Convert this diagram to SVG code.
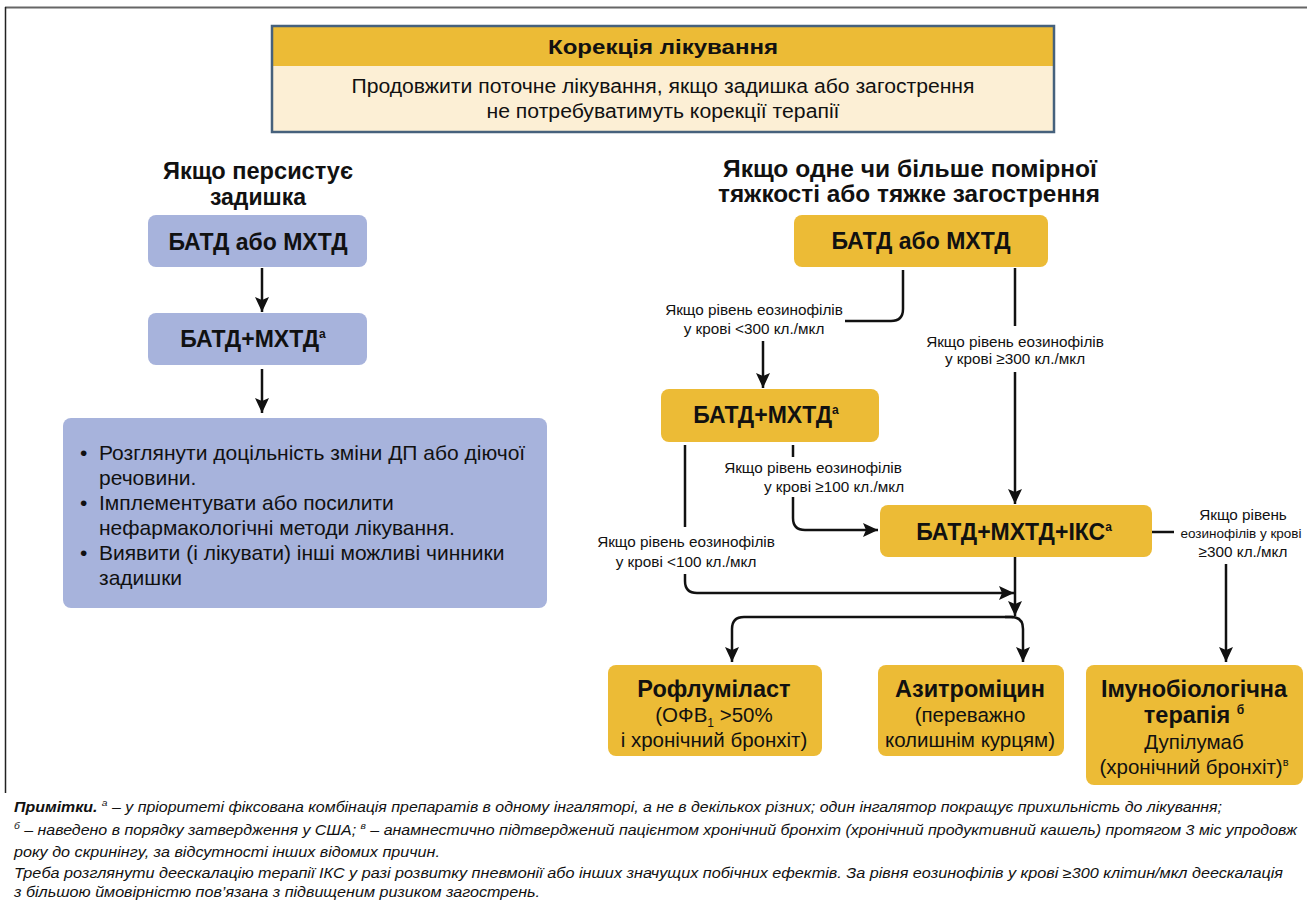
<svg xmlns="http://www.w3.org/2000/svg" width="1307" height="910" viewBox="0 0 1307 910">
<style>
text{font-family:"Liberation Sans","Noto Sans",sans-serif;fill:#111}
.b{font-weight:bold}
.bx{font-size:23px;font-weight:bold;text-anchor:middle}
.hd{font-size:23px;font-weight:bold;text-anchor:middle}
.lb{font-size:15.3px;text-anchor:middle}
.gold{fill:#ECBB36}
.lav{fill:#A7B3DC}
.fin{font-size:20.5px;text-anchor:middle}
.fb{font-size:23.5px;font-weight:bold}
.blt{font-size:21px}
.note{font-size:14px;font-style:italic}
.c{fill:none;stroke:#111;stroke-width:2.5}
</style>
<defs>
<marker id="ar" markerUnits="userSpaceOnUse" markerWidth="16" markerHeight="16" viewBox="0 0 16 14" refX="15" refY="7" orient="auto">
<path d="M0,0 L15,7 L0,14 L3,7 z" fill="#111"/>
</marker>
</defs>
<g id="frame">
<line x1="5" y1="7.5" x2="1307" y2="7.5" stroke="#666" stroke-width="2"/>
<line x1="5.5" y1="7" x2="5.5" y2="793" stroke="#222" stroke-width="1.5"/>
</g>
<g id="top-box">
<rect x="272" y="26" width="782" height="106" fill="#FCEFD5"/>
<rect x="272" y="26" width="782" height="40" class="gold"/>
<rect x="272" y="26" width="782" height="106" fill="none" stroke="#46617C" stroke-width="2.5"/>
<text x="663" y="54" class="b" font-size="20" text-anchor="middle" textLength="230" lengthAdjust="spacingAndGlyphs">Корекція лікування</text>
<text x="663" y="93" font-size="20" text-anchor="middle" textLength="623" lengthAdjust="spacingAndGlyphs">Продовжити поточне лікування, якщо задишка або загострення</text>
<text x="663" y="118" font-size="20" text-anchor="middle" textLength="353" lengthAdjust="spacingAndGlyphs">не потребуватимуть корекції терапії</text>
</g>
<g id="left-heading">
<text x="258" y="179" class="hd" textLength="190" lengthAdjust="spacingAndGlyphs">Якщо персистує</text>
<text x="258" y="205" class="hd">задишка</text>
</g>
<g id="right-heading">
<text x="910" y="177" class="hd" textLength="374" lengthAdjust="spacingAndGlyphs">Якщо одне чи більше помірної</text>
<text x="909" y="202" class="hd" textLength="382" lengthAdjust="spacingAndGlyphs">тяжкості або тяжке загострення</text>
</g>
<g id="l-batd-or">
<rect x="148" y="215" width="219" height="52" rx="8" class="lav"/>
<text x="258" y="250" class="bx">БАТД або МХТД</text>
</g>
<g id="l-batd-plus">
<rect x="148" y="313" width="219" height="52" rx="8" class="lav"/>
<text x="253" y="347" class="bx">БАТД+МХТД<tspan font-size="12" dy="-9">а</tspan></text>
</g>
<g id="l-actions">
<rect x="63" y="418" width="484" height="190" rx="8" class="lav"/>
<text x="80" y="460" class="blt">•</text>
<text x="99" y="460" class="blt">Розглянути доцільність зміни ДП або діючої</text>
<text x="99" y="485" class="blt">речовини.</text>
<text x="80" y="510" class="blt">•</text>
<text x="99" y="510" class="blt">Імплементувати або посилити</text>
<text x="99" y="535" class="blt">нефармакологічні методи лікування.</text>
<text x="80" y="560" class="blt">•</text>
<text x="99" y="560" class="blt">Виявити (і лікувати) інші можливі чинники</text>
<text x="99" y="585" class="blt">задишки</text>
</g>
<g id="r-batd-or">
<rect x="794" y="215" width="254" height="52" rx="8" class="gold"/>
<text x="921" y="249" class="bx">БАТД або МХТД</text>
</g>
<g id="r-batd-plus">
<rect x="661" y="389" width="218" height="53" rx="8" class="gold"/>
<text x="766" y="423" class="bx">БАТД+МХТД<tspan font-size="12" dy="-9">а</tspan></text>
</g>
<g id="r-batd-plus-iks">
<rect x="880" y="505" width="272" height="52" rx="8" class="gold"/>
<text x="1014" y="540" class="bx">БАТД+МХТД+ІКС<tspan font-size="12" dy="-9">а</tspan></text>
</g>
<g id="roflumilast">
<rect x="608" y="665" width="214" height="91" rx="8" class="gold"/>
<text x="714" y="697" class="fin fb">Рофлуміласт</text>
<text x="714" y="722" class="fin">(ОФВ<tspan font-size="12" dy="5">1</tspan><tspan dy="-5"> &gt;50%</tspan></text>
<text x="714" y="747" class="fin">і хронічний бронхіт)</text>
</g>
<g id="azithromycin">
<rect x="878" y="665" width="186" height="91" rx="8" class="gold"/>
<text x="970" y="697" class="fin fb">Азитроміцин</text>
<text x="970" y="722" class="fin">(переважно</text>
<text x="970" y="747" class="fin">колишнім курцям)</text>
</g>
<g id="immuno">
<rect x="1086" y="665" width="217" height="120" rx="8" class="gold"/>
<text x="1194" y="697" class="fin fb">Імунобіологічна</text>
<text x="1194" y="723" class="fin fb">терапія <tspan font-size="12" dy="-9">б</tspan></text>
<text x="1194" y="749" class="fin">Дупілумаб</text>
<text x="1194" y="774" class="fin">(хронічний бронхіт)<tspan font-size="11" dy="-8">в</tspan></text>
</g>
<g id="labels">
<text x="754" y="315" class="lb">Якщо рівень еозинофілів</text>
<text x="754" y="334" class="lb">у крові &lt;300 кл./мкл</text>
<text x="1015" y="347" class="lb">Якщо рівень еозинофілів</text>
<text x="1015" y="364" class="lb">у крові ≥300 кл./мкл</text>
<text x="813" y="473" class="lb">Якщо рівень еозинофілів</text>
<text x="834" y="492" class="lb">у крові ≥100 кл./мкл</text>
<text x="686" y="547" class="lb">Якщо рівень еозинофілів</text>
<text x="686" y="567" class="lb">у крові &lt;100 кл./мкл</text>
<text x="1243" y="520" class="lb">Якщо рівень</text>
<text x="1241" y="538" class="lb" font-size="13.5" style="font-size:13.5px">еозинофілів у крові</text>
<text x="1243" y="557" class="lb">≥300 кл./мкл</text>
</g>
<g id="connectors">
<path class="c" d="M262,268 V312" marker-end="url(#ar)"/>
<path class="c" d="M262,369 V413" marker-end="url(#ar)"/>
<path class="c" d="M903,270 V309 Q903,321 891,321 H845"/>
<path class="c" d="M763,341 V388" marker-end="url(#ar)"/>
<path class="c" d="M1015,268 V326"/>
<path class="c" d="M1015,372 V504" marker-end="url(#ar)"/>
<path class="c" d="M685,445 V527"/>
<path class="c" d="M685,574 V581 Q685,593 697,593 H1014" marker-end="url(#ar)"/>
<path class="c" d="M793,445 V457"/>
<path class="c" d="M793,497 V518 Q793,530 805,530 H878" marker-end="url(#ar)"/>
<path class="c" d="M1015,557 V616" marker-end="url(#ar)"/>
<path class="c" d="M1013,617 H744 Q732,617 732,629 V662" marker-end="url(#ar)"/>
<path class="c" d="M1005,617 H1011 Q1023,617 1023,629 V662" marker-end="url(#ar)"/>
<path class="c" d="M1152,532 H1174"/>
<path class="c" d="M1226,564 V662" marker-end="url(#ar)"/>
</g>
<g id="notes">
<text x="14" y="812" class="note" textLength="1208" lengthAdjust="spacingAndGlyphs"><tspan class="b">Примітки.</tspan> <tspan font-size="9" dy="-6">а</tspan><tspan dy="6"> – у пріоритеті фіксована комбінація препаратів в одному інгаляторі, а не в декількох різних; один інгалятор покращує прихильність до лікування;</tspan></text>
<text x="14" y="835" class="note" textLength="1283" lengthAdjust="spacingAndGlyphs"><tspan font-size="9" dy="-6">б</tspan><tspan dy="6"> – наведено в порядку затвердження у США; </tspan><tspan font-size="9" dy="-6">в</tspan><tspan dy="6"> – анамнестично підтверджений пацієнтом хронічний бронхіт (хронічний продуктивний кашель) протягом 3 міс упродовж</tspan></text>
<text x="14" y="857" class="note" textLength="426" lengthAdjust="spacingAndGlyphs">року до скринінгу, за відсутності інших відомих причин.</text>
<text x="14" y="878" class="note" textLength="1269" lengthAdjust="spacingAndGlyphs">Треба розглянути деескалацію терапії ІКС у разі розвитку пневмонії або інших значущих побічних ефектів. За рівня еозинофілів у крові ≥300 клітин/мкл деескалація</text>
<text x="14" y="897" class="note" textLength="526" lengthAdjust="spacingAndGlyphs">з більшою ймовірністю пов’язана з підвищеним ризиком загострень.</text>
</g>
</svg>
